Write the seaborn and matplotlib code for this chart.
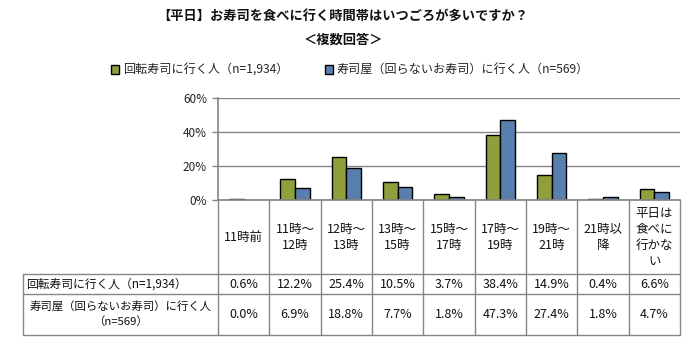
import matplotlib
matplotlib.use('Agg')
import matplotlib.pyplot as plt
import matplotlib.transforms as mtransforms
from matplotlib.lines import Line2D
import seaborn as sns
import pandas as pd

# ---- data ----
categories = ["11時前", "11時～\n12時", "12時～\n13時", "13時～\n15時", "15時～\n17時",
              "17時～\n19時", "19時～\n21時", "21時以\n降", "平日は\n食べに\n行かな\nい"]
series_names = ["回転寿司に行く人（n=1,934）", "寿司屋（回らないお寿司）に行く人（n=569）"]
kaiten = [0.6, 12.2, 25.4, 10.5, 3.7, 38.4, 14.9, 0.4, 6.6]
sushiya = [0.0, 6.9, 18.8, 7.7, 1.8, 47.3, 27.4, 1.8, 4.7]
table_row_labels = ["回転寿司に行く人（n=1,934）", "寿司屋（回らないお寿司）に行く人\n（n=569）"]
yticks = [0, 20, 40, 60]
title_text = "【平日】お寿司を食べに行く時間帯はいつごろが多いですか？"
subtitle_text = "＜複数回答＞"

GREEN = "#9BB02A"
BLUE = "#4A7EBB"
GRID = "#868686"

sns.set_theme(style="white")
plt.rcParams['font.family'] = ['Noto Sans CJK JP', 'DejaVu Sans']

df = pd.DataFrame({
    "cat": categories * 2,
    "series": [series_names[0]] * len(categories) + [series_names[1]] * len(categories),
    "value": kaiten + sushiya,
})

W, H = 695, 343
fig = plt.figure(figsize=(W / 100, H / 100), dpi=100)
def fx(px): return px / W
def fy(py): return 1 - py / H

ax_l, ax_r, ax_t, ax_b = 218, 680, 98, 200
ax = fig.add_axes([fx(ax_l), fy(ax_b), fx(ax_r - ax_l), (ax_b - ax_t) / H])

sns.barplot(data=df, x="cat", y="value", hue="series", order=categories,
            hue_order=series_names, palette=[GREEN, BLUE], width=0.57, gap=0,
            edgecolor="black", linewidth=1, ax=ax, legend=True)

ax.set_ylim(0, 60)
ax.set_xlim(-0.5, len(categories) - 0.5)
ax.set_yticks(yticks)
ax.set_yticklabels([f"{v}%" for v in yticks], fontsize=8.5, color="#222222")
ax.set_xticks([])
ax.set_xlabel("")
ax.set_ylabel("")
ax.yaxis.grid(True, color=GRID, linewidth=1)
ax.set_axisbelow(True)
for s in ["top", "right"]:
    ax.spines[s].set_visible(False)
ax.spines["left"].set_color(GRID)
ax.spines["bottom"].set_color(GRID)
ax.tick_params(axis="y", length=4, color=GRID, width=1, left=True, pad=4)

# legend
sns.move_legend(ax, "center", bbox_to_anchor=(fx(350), fy(70)),
                bbox_transform=fig.transFigure, ncol=2, frameon=False,
                title=None, fontsize=8.7, handlelength=0.7, handleheight=0.7,
                columnspacing=3.0, handletextpad=0.3)

# title
fig.text(fx(343), fy(17), title_text, ha="center", va="center",
         fontsize=9.5, fontweight="bold", color="#111111")
fig.text(fx(343), fy(40), subtitle_text, ha="center", va="center",
         fontsize=9.5, fontweight="bold", color="#111111")

# ---- data table below chart ----
blend = mtransforms.blended_transform_factory(ax.transData, fig.transFigure)
row_head_bottom, row1_bottom, row2_bottom = 274, 294, 335
label_left = 23
lk = dict(color=GRID, linewidth=1, clip_on=False)

for i in range(len(categories) + 1):
    fig.add_artist(Line2D([i - 0.5, i - 0.5], [fy(ax_b), fy(row2_bottom)], transform=blend, **lk))
for yy in [row_head_bottom, row1_bottom, row2_bottom]:
    fig.add_artist(Line2D([fx(label_left), fx(ax_r)], [fy(yy), fy(yy)],
                          transform=fig.transFigure, **lk))
fig.add_artist(Line2D([fx(label_left), fx(label_left)], [fy(row_head_bottom), fy(row2_bottom)],
                      transform=fig.transFigure, **lk))

for i, c in enumerate(categories):
    fig.text(i, fy((ax_b + row_head_bottom) / 2), c, transform=blend, ha="center", va="center",
             fontsize=9, color="#111111", linespacing=1.3)
for i, (a, b) in enumerate(zip(kaiten, sushiya)):
    fig.text(i, fy((row_head_bottom + row1_bottom) / 2), f"{a:.1f}%", transform=blend,
             ha="center", va="center", fontsize=9, color="#111111")
    fig.text(i, fy((row1_bottom + row2_bottom) / 2), f"{b:.1f}%", transform=blend,
             ha="center", va="center", fontsize=9, color="#111111")
fig.text(fx(26), fy((row_head_bottom + row1_bottom) / 2), table_row_labels[0],
         ha="left", va="center", fontsize=8.5, color="#111111")
fig.text(fx((label_left + ax_l) / 2), fy((row1_bottom + row2_bottom) / 2), table_row_labels[1],
         ha="center", va="center", fontsize=8.2, color="#111111", linespacing=1.35)

fig.savefig("out.png", dpi=100, facecolor="white")
